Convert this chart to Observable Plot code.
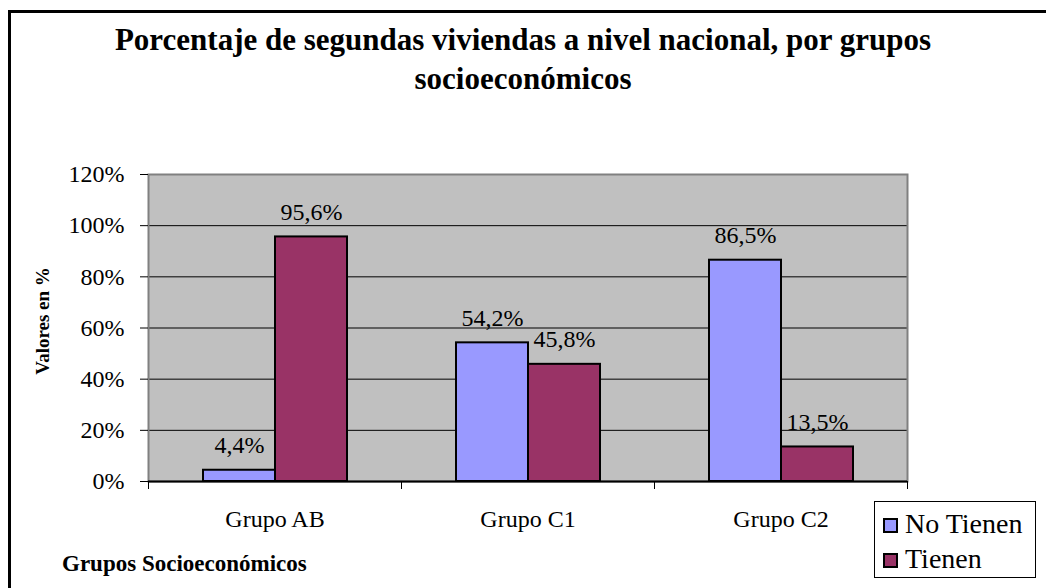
<!DOCTYPE html>
<html><head><meta charset="utf-8">
<script src="https://cdn.jsdelivr.net/npm/d3@7"></script>
<script src="https://cdn.jsdelivr.net/npm/@observablehq/plot@0.6"></script>
<style>
body{margin:0;background:#fff;font-family:"Liberation Serif","Times New Roman",Tinos,serif;}
#wrap{position:relative;width:1046px;height:588px;overflow:hidden;background:#fff;}
#border{position:absolute;left:8px;top:10px;width:1100px;height:700px;border:3px solid #000;box-sizing:border-box;}
#title{position:absolute;left:0;top:20px;width:1046px;text-align:center;font-weight:bold;font-size:31px;line-height:39px;}
#chart{position:absolute;left:0;top:140px;}
#xtitle{position:absolute;left:62px;top:551px;font-weight:bold;font-size:23px;}
#legend{position:absolute;left:874px;top:501px;width:162px;height:77px;border:1px solid #000;box-sizing:border-box;background:#fff;font-size:28px;}
.item{position:absolute;left:8px;height:30px;line-height:30px;white-space:nowrap;}
.sw{display:inline-block;width:15px;height:15px;border:2px solid #000;box-sizing:border-box;margin-right:7px;vertical-align:0px;}
</style></head>
<body>
<div id="wrap">
  <div id="border"></div>
  <div id="title"></div>
  <div id="chart"></div>
  <div id="xtitle"></div>
  <div id="legend"></div>
</div>
<script>
const titleLines = ["Porcentaje de segundas viviendas a nivel nacional, por grupos", "socioeconómicos"];
const yLabel = "Valores en %";
const xLabel = "Grupos Socioeconómicos";
const groups = ["Grupo AB", "Grupo C1", "Grupo C2"];
const series = ["No Tienen", "Tienen"];
const noTienen = [4.4, 54.2, 86.5];
const tienen = [95.6, 45.8, 13.5];
const yTicks = [0, 20, 40, 60, 80, 100, 120];
const colors = ["#9999FF", "#993366"];

const rows = [];
groups.forEach((g, i) => {
  rows.push({group: g, series: series[0], value: noTienen[i]});
  rows.push({group: g, series: series[1], value: tienen[i]});
});
const fmt = v => String(v).replace(".", ",") + "%";

document.getElementById("title").innerHTML = titleLines.join("<br>");
document.getElementById("xtitle").textContent = xLabel;
const leg = document.getElementById("legend");
series.forEach((s, i) => {
  const it = document.createElement("div");
  it.className = "item";
  it.style.top = (7 + i * 35) + "px";
  const sw = document.createElement("span");
  sw.className = "sw";
  sw.style.background = colors[i];
  it.appendChild(sw);
  it.appendChild(document.createTextNode(s));
  leg.appendChild(it);
});

const W = 1046, mL = 148, mR = 139;
const halfStep = (W - mL - mR) / groups.length / 2;
const serif = "'Liberation Serif', 'Times New Roman', Tinos, serif";

const chart = Plot.plot({
  width: W, height: 400,
  marginTop: 34, marginBottom: 59, marginLeft: mL, marginRight: mR,
  style: {fontFamily: serif, fontSize: "24px", background: "transparent", color: "#000", overflow: "visible"},
  fx: {domain: groups, padding: 0, label: null, axis: null},
  x: {domain: series, paddingInner: 0, paddingOuter: 0.745, axis: null},
  y: {domain: [0, 120], axis: null},
  color: {domain: series, range: colors},
  marks: [
    Plot.frame({facet: "super", fill: "#C0C0C0"}),
    Plot.ruleY(yTicks.slice(1, -1), {stroke: "#000", strokeWidth: 1}),
    Plot.frame({facet: "super", stroke: "#808080", strokeWidth: 2}),
    Plot.ruleY([0], {stroke: "#000", strokeWidth: 2}),
    Plot.axisY({ticks: yTicks, tickFormat: d => d + "%", tickSize: 8, tickPadding: 16, fontSize: 24, fontFamily: serif, fontVariant: "normal", label: null}),
    Plot.axisFx({anchor: "bottom", tickSize: 0, tickPadding: 28, fontSize: 24, fontFamily: serif, fontVariant: "normal", label: null}),
    Plot.axisFx({anchor: "bottom", text: null, tickSize: 8, dx: -halfStep, label: null}),
    Plot.axisFx({anchor: "bottom", ticks: [groups[groups.length - 1]], text: null, tickSize: 8, dx: halfStep, label: null}),
    Plot.barY(rows, {fx: "group", x: "series", y: "value", fill: "series", stroke: "#000", strokeWidth: 2}),
    Plot.text(rows, {fx: "group", x: "series", y: "value", text: d => fmt(d.value), lineAnchor: "bottom", dy: -17, fontSize: 24, fontFamily: serif}),
    Plot.text([{g: groups[0], t: yLabel}], {fx: "g", text: "t", frameAnchor: "left", textAnchor: "middle", rotate: -90, dx: -106, dy: -7, fontWeight: "bold", fontSize: 19, fontFamily: serif})
  ]
});
document.getElementById("chart").appendChild(chart);
</script>
</body></html>
